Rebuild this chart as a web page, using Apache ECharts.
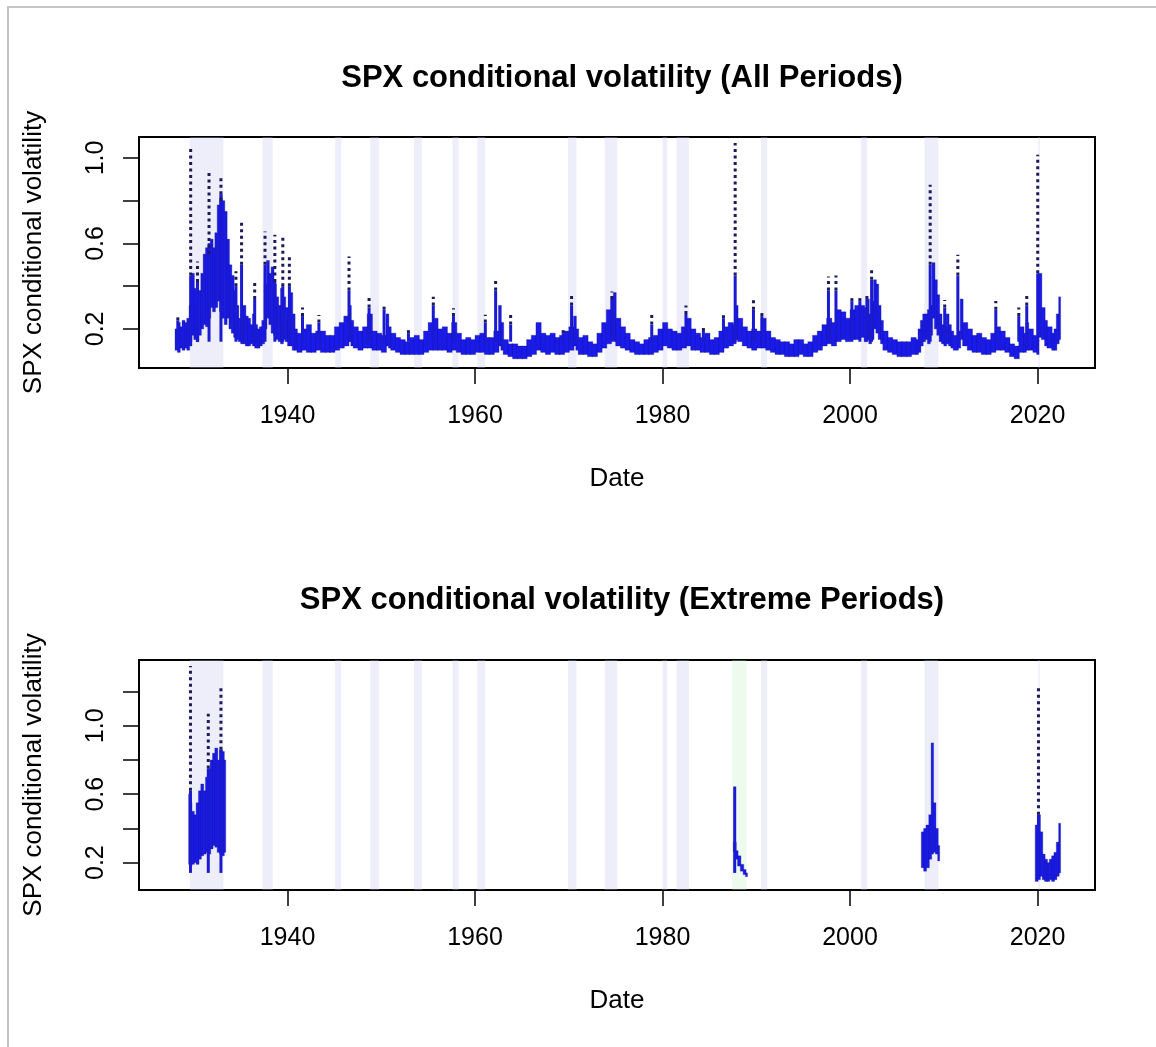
<!DOCTYPE html>
<html><head><meta charset="utf-8">
<script src="https://cdn.jsdelivr.net/npm/echarts@6/dist/echarts.min.js"></script>
<style>html,body{margin:0;padding:0;background:#fff}#c{width:1156px;height:1047px}</style>
</head><body><div id="c"></div>
<script>
const FONT = "'Liberation Sans', Arial, Helvetica, sans-serif";

// ---- axes / ticks ----
const xTickYears = [1940, 1960, 1980, 2000, 2020];
const yTicksAll = [0.2, 0.4, 0.6, 0.8, 1.0];
const yLabelsAll = [0.2, 0.6, 1.0];
const yTicksExt = [0.2, 0.4, 0.6, 0.8, 1.0, 1.2];
const yLabelsExt = [0.2, 0.6, 1.0];

// ---- recession bands (start, end) ----
const recessions = [
  [1929.58, 1933.17], [1937.33, 1938.42], [1945.08, 1945.75], [1948.83, 1949.75],
  [1953.5, 1954.33], [1957.58, 1958.25], [1960.25, 1961.08], [1969.92, 1970.83],
  [1973.83, 1975.17], [1980.0, 1980.5], [1981.5, 1982.83], [1990.5, 1991.17],
  [2001.17, 2001.83], [2007.92, 2009.42], [2020.08, 2020.25]
];
const crashBand = [[1987.4, 1988.95]];

// ---- All periods: [year, low, high] of the daily volatility mass ----
const allPeriodsVol = [
  [1928.0,0.10,0.20],[1928.25,0.09,0.23],[1928.5,0.11,0.21],[1928.75,0.10,0.24],
  [1929.0,0.11,0.23],[1929.25,0.10,0.25],[1929.5,0.12,0.31],[1929.75,0.17,0.46],
  [1930.0,0.15,0.39],[1930.25,0.14,0.31],[1930.5,0.17,0.38],[1930.75,0.20,0.46],
  [1931.0,0.22,0.55],[1931.25,0.21,0.58],[1931.5,0.25,0.60],[1931.75,0.30,0.62],
  [1932.0,0.28,0.58],[1932.25,0.30,0.65],[1932.5,0.33,0.78],[1932.75,0.28,0.83],
  [1933.0,0.25,0.80],[1933.25,0.22,0.75],[1933.5,0.25,0.62],[1933.75,0.20,0.50],
  [1934.0,0.18,0.45],[1934.25,0.16,0.38],[1934.5,0.15,0.31],[1934.75,0.14,0.25],
  [1935.0,0.13,0.24],[1935.25,0.13,0.31],[1935.5,0.12,0.26],[1935.75,0.12,0.25],
  [1936.0,0.13,0.22],[1936.25,0.12,0.27],[1936.5,0.11,0.22],[1936.75,0.11,0.20],
  [1937.0,0.12,0.21],[1937.25,0.13,0.24],[1937.5,0.20,0.41],[1937.75,0.25,0.52],
  [1938.0,0.22,0.46],[1938.25,0.18,0.49],[1938.5,0.17,0.41],[1938.75,0.15,0.35],
  [1939.0,0.14,0.31],[1939.25,0.13,0.39],[1939.5,0.15,0.35],[1939.75,0.14,0.30],
  [1940.0,0.12,0.26],[1940.25,0.12,0.37],[1940.5,0.10,0.27],[1940.75,0.10,0.20],
  [1941.0,0.09,0.18],[1941.5,0.10,0.20],[1942.0,0.09,0.22],[1942.5,0.09,0.18],
  [1943.0,0.10,0.19],[1943.5,0.09,0.19],[1944.0,0.09,0.17],[1944.5,0.09,0.17],
  [1945.0,0.10,0.21],[1945.5,0.11,0.23],[1946.0,0.12,0.26],[1946.5,0.14,0.31],
  [1946.75,0.12,0.24],[1947.0,0.11,0.21],[1947.5,0.10,0.19],[1948.0,0.11,0.21],
  [1948.5,0.11,0.27],[1949.0,0.10,0.19],[1949.5,0.10,0.18],[1950.0,0.09,0.17],
  [1950.5,0.12,0.27],[1950.75,0.11,0.21],[1951.0,0.10,0.18],[1951.5,0.09,0.16],
  [1952.0,0.08,0.15],[1952.5,0.08,0.14],[1953.0,0.08,0.16],[1953.5,0.08,0.17],
  [1954.0,0.08,0.15],[1954.5,0.09,0.19],[1955.0,0.10,0.23],[1955.5,0.10,0.25],
  [1956.0,0.10,0.20],[1956.5,0.10,0.21],[1957.0,0.09,0.18],[1957.5,0.10,0.23],
  [1958.0,0.09,0.18],[1958.5,0.08,0.15],[1959.0,0.08,0.16],[1959.5,0.08,0.15],
  [1960.0,0.09,0.17],[1960.5,0.09,0.18],[1961.0,0.08,0.16],[1961.5,0.08,0.16],
  [1962.0,0.09,0.19],[1962.5,0.12,0.31],[1962.75,0.10,0.23],[1963.0,0.08,0.15],
  [1963.5,0.07,0.13],[1964.0,0.06,0.13],[1964.5,0.06,0.12],[1965.0,0.06,0.12],
  [1965.5,0.07,0.15],[1966.0,0.08,0.17],[1966.5,0.10,0.23],[1967.0,0.09,0.18],
  [1967.5,0.08,0.17],[1968.0,0.09,0.18],[1968.5,0.08,0.16],[1969.0,0.08,0.17],
  [1969.5,0.09,0.19],[1970.0,0.10,0.21],[1970.5,0.12,0.26],[1970.75,0.10,0.20],
  [1971.0,0.08,0.16],[1971.5,0.08,0.17],[1972.0,0.07,0.14],[1972.5,0.07,0.13],
  [1973.0,0.09,0.18],[1973.5,0.11,0.23],[1974.0,0.13,0.29],[1974.5,0.15,0.35],
  [1974.75,0.14,0.37],[1975.0,0.12,0.25],[1975.5,0.11,0.21],[1976.0,0.10,0.18],
  [1976.5,0.09,0.15],[1977.0,0.08,0.14],[1977.5,0.08,0.13],[1978.0,0.08,0.15],
  [1978.5,0.08,0.16],[1979.0,0.09,0.17],[1979.5,0.10,0.20],[1980.0,0.12,0.23],
  [1980.5,0.11,0.20],[1981.0,0.10,0.19],[1981.5,0.10,0.18],[1982.0,0.11,0.21],
  [1982.5,0.12,0.25],[1983.0,0.10,0.20],[1983.5,0.10,0.18],[1984.0,0.09,0.16],
  [1984.5,0.09,0.18],[1985.0,0.08,0.15],[1985.5,0.08,0.16],[1986.0,0.09,0.19],
  [1986.5,0.11,0.21],[1987.0,0.12,0.23],[1987.5,0.13,0.22],[1987.8,0.15,0.31],
  [1988.0,0.14,0.25],[1988.5,0.12,0.21],[1989.0,0.11,0.19],[1989.5,0.10,0.20],
  [1990.0,0.11,0.19],[1990.5,0.11,0.25],[1991.0,0.10,0.19],[1991.5,0.09,0.16],
  [1992.0,0.08,0.15],[1992.5,0.08,0.14],[1993.0,0.07,0.14],[1993.5,0.07,0.13],
  [1994.0,0.07,0.15],[1994.5,0.08,0.15],[1995.0,0.07,0.13],[1995.5,0.07,0.14],
  [1996.0,0.09,0.17],[1996.5,0.10,0.19],[1997.0,0.12,0.22],[1997.5,0.13,0.25],
  [1998.0,0.12,0.23],[1998.5,0.14,0.29],[1999.0,0.15,0.28],[1999.5,0.14,0.25],
  [2000.0,0.15,0.29],[2000.5,0.15,0.31],[2001.0,0.16,0.31],[2001.5,0.14,0.30],
  [2001.75,0.15,0.34],[2002.0,0.13,0.27],[2002.25,0.15,0.33],[2002.5,0.20,0.43],
  [2002.75,0.18,0.41],[2003.0,0.15,0.31],[2003.25,0.13,0.24],[2003.5,0.10,0.19],
  [2004.0,0.09,0.16],[2004.5,0.08,0.15],[2005.0,0.07,0.14],[2005.5,0.07,0.14],
  [2006.0,0.07,0.14],[2006.5,0.08,0.16],[2007.0,0.08,0.15],[2007.25,0.09,0.20],
  [2007.5,0.12,0.24],[2007.75,0.14,0.27],[2008.0,0.15,0.27],[2008.25,0.13,0.29],
  [2008.5,0.17,0.31],[2008.75,0.25,0.51],[2009.0,0.20,0.43],[2009.25,0.17,0.36],
  [2009.5,0.14,0.27],[2009.75,0.13,0.22],[2010.0,0.12,0.21],[2010.25,0.13,0.27],
  [2010.5,0.12,0.22],[2010.75,0.11,0.19],[2011.0,0.10,0.17],[2011.5,0.11,0.19],
  [2011.75,0.15,0.34],[2012.0,0.12,0.23],[2012.5,0.10,0.20],[2013.0,0.09,0.17],
  [2013.5,0.09,0.18],[2014.0,0.08,0.16],[2014.5,0.08,0.15],[2015.0,0.09,0.18],
  [2015.5,0.10,0.21],[2016.0,0.10,0.19],[2016.5,0.09,0.16],[2017.0,0.07,0.13],
  [2017.5,0.06,0.12],[2018.0,0.09,0.21],[2018.5,0.09,0.18],[2018.75,0.10,0.23],
  [2019.0,0.10,0.20],[2019.5,0.09,0.17],[2019.9,0.08,0.15],[2020.1,0.16,0.46],
  [2020.4,0.15,0.30],[2020.75,0.12,0.24],[2021.0,0.11,0.21],[2021.5,0.10,0.18],
  [2021.75,0.10,0.20],[2022.0,0.13,0.27],[2022.25,0.15,0.35]
];

// ---- All periods spikes: [year, top of solid part, top of dotted part] ----
const allPeriodsSpikes = [
  [1928.3,0.24,0.27],[1929.67,0.45,1.046],[1930.4,0.42,0.515],[1931.63,0.55,0.937],
  [1932.9,0.80,0.92],[1934.5,0.40,0.47],[1935.1,0.50,0.70],[1936.5,0.34,0.43],
  [1937.6,0.50,0.656],[1938.65,0.42,0.64],[1939.5,0.40,0.63],[1940.2,0.40,0.55],
  [1941.6,0.26,0.30],[1943.35,0.23,0.265],[1946.56,0.38,0.539],[1948.7,0.30,0.35],
  [1950.3,0.29,0.32],[1952.9,0.18,0.195],[1955.55,0.31,0.35],[1957.7,0.26,0.297],
  [1961.1,0.23,0.266],[1962.2,0.38,0.437],[1963.8,0.22,0.266],[1969.4,0.18,0.195],
  [1970.3,0.31,0.36],[1974.6,0.34,0.375],[1978.85,0.22,0.266],[1982.5,0.27,0.31],
  [1984.36,0.19,0.22],[1986.5,0.25,0.28],[1987.75,0.45,1.07],[1989.7,0.29,0.335],
  [1990.6,0.26,0.29],[1997.7,0.38,0.445],[1998.5,0.38,0.45],[2000.2,0.33,0.36],
  [2001.05,0.33,0.36],[2001.8,0.34,0.36],[2002.3,0.43,0.476],[2008.55,0.50,0.874],
  [2010.1,0.30,0.335],[2011.5,0.45,0.547],[2015.55,0.29,0.33],[2018.0,0.26,0.30],
  [2018.85,0.31,0.36],[2020.02,0.46,1.015]
];

// ---- Extreme periods: [year, low, high] ----
const extremeVol = [
  [1929.45,0.19,0.60],[1929.6,0.18,0.55],[1929.75,0.19,0.50],[1930.0,0.20,0.48],
  [1930.25,0.19,0.55],[1930.5,0.22,0.62],[1930.75,0.24,0.66],[1931.0,0.25,0.62],
  [1931.25,0.26,0.70],[1931.5,0.25,0.75],[1931.75,0.28,0.80],[1932.0,0.30,0.84],
  [1932.25,0.29,0.87],[1932.5,0.26,0.80],[1932.75,0.25,0.86],[1933.0,0.24,0.85],
  [1933.2,0.26,0.80],
  [1987.55,0.265,0.32],[1987.8,0.22,0.27],[1988.0,0.18,0.24],[1988.3,0.15,0.19],
  [1988.6,0.13,0.16],[1988.85,0.118,0.14],
  [2007.6,0.17,0.38],[2007.85,0.15,0.40],[2008.1,0.17,0.42],[2008.4,0.22,0.48],
  [2008.65,0.25,0.90],[2008.85,0.26,0.55],[2009.1,0.25,0.40],[2009.35,0.21,0.30],
  [2019.75,0.09,0.42],[2020.0,0.10,0.48],[2020.25,0.12,0.38],[2020.5,0.10,0.25],
  [2020.75,0.09,0.22],[2021.0,0.09,0.20],[2021.25,0.10,0.22],[2021.5,0.09,0.24],
  [2021.75,0.10,0.26],[2022.0,0.12,0.32],[2022.25,0.14,0.43]
];
const extremeSpikes = [
  [1929.65,0.62,1.35],[1931.55,0.75,1.07],[1932.9,0.86,1.24],
  [1987.7,0.645,0.645],[2020.1,0.48,1.24]
];

// ---- rendering helpers ----
function massRenderer(data) {
  return function (params, api) {
    const i = params.dataIndex;
    const x0 = api.value(0), lo = api.value(1), hi = api.value(2);
    const next = i + 1 < data.length ? data[i + 1][0] : null;
    const x1 = (next !== null && next - x0 <= 0.6) ? next : x0 + 0.15;
    const a = api.coord([x0, hi]);
    const b = api.coord([x1, lo]);
    return {
      type: 'rect',
      shape: { x: a[0], y: a[1], width: b[0] - a[0] + 0.6, height: b[1] - a[1] },
      style: { fill: '#1a1aea', stroke: 'rgba(24,24,120,0.3)', lineWidth: 1 }
    };
  };
}
function spikeRenderer(params, api) {
  const x = api.value(0), s = api.value(1), t = api.value(2);
  const base = api.coord([x, Math.min(0.14, s)]);
  const ps = api.coord([x, s]);
  const pt = api.coord([x, t]);
  const children = [{
    type: 'line', shape: { x1: base[0], y1: base[1], x2: ps[0], y2: ps[1] },
    style: { stroke: '#1a1ad0', lineWidth: 3 }
  }];
  if (t > s) {
    children.push({
      type: 'line', shape: { x1: ps[0], y1: ps[1], x2: pt[0], y2: pt[1] },
      style: { stroke: '#1b1b5a', lineWidth: 3, lineDash: [3, 3.5] }
    });
  }
  return { type: 'group', children };
}

const chart = echarts.init(document.getElementById('c'), null, { renderer: 'canvas' });
const textBase = { color: '#000', fontFamily: FONT };

function xAxisCfg(gi) {
  return {
    gridIndex: gi, type: 'value', min: 1924.16, max: 2026.13,
    axisLine: { show: false }, splitLine: { show: false },
    axisTick: { show: true, length: 16, customValues: xTickYears, lineStyle: { color: '#000', width: 1.5 } },
    axisLabel: { ...textBase, fontSize: 25, margin: 36, customValues: xTickYears, formatter: v => String(Math.round(v)) },
    name: 'Date', nameLocation: 'middle', nameGap: 98,
    nameTextStyle: { ...textBase, fontSize: 26 }
  };
}
function yAxisCfg(gi, min, max, ticks, labels) {
  return {
    gridIndex: gi, type: 'value', min, max,
    axisLine: { show: false }, splitLine: { show: false },
    axisTick: { show: true, length: 16, customValues: ticks, lineStyle: { color: '#000', width: 1.5 } },
    axisLabel: { ...textBase, fontSize: 25, rotate: 90, margin: 30, customValues: labels, formatter: v => v.toFixed(1) },
    name: 'SPX conditional volatility', nameLocation: 'middle', nameGap: 92,
    nameTextStyle: { ...textBase, fontSize: 26 }
  };
}
function bands(list, color) {
  return {
    silent: true, itemStyle: { color },
    data: list.map(r => [{ xAxis: r[0] }, { xAxis: r[1] }])
  };
}

chart.setOption({
  animation: false,
  backgroundColor: '#fff',
  title: [
    { text: 'SPX conditional volatility (All Periods)', left: 617, top: 58, textAlign: 'center',
      textStyle: { ...textBase, fontSize: 31, fontWeight: 'bold' } },
    { text: 'SPX conditional volatility (Extreme Periods)', left: 617, top: 580, textAlign: 'center',
      textStyle: { ...textBase, fontSize: 31, fontWeight: 'bold' } }
  ],
  graphic: [{
    type: 'rect', silent: true, z: 100,
    shape: { x: 8, y: 7, width: 1300, height: 1200 },
    style: { fill: 'none', stroke: '#c4c4c4', lineWidth: 2 }
  }],
  grid: [
    { left: 139, top: 137, width: 956, height: 231, show: true, borderColor: '#000', borderWidth: 2, backgroundColor: 'transparent' },
    { left: 139, top: 660, width: 956, height: 230, show: true, borderColor: '#000', borderWidth: 2, backgroundColor: 'transparent' }
  ],
  xAxis: [xAxisCfg(0), xAxisCfg(1)],
  yAxis: [
    yAxisCfg(0, 0.017, 1.098, yTicksAll, yLabelsAll),
    yAxisCfg(1, 0.04, 1.385, yTicksExt, yLabelsExt)
  ],
  series: [
    { type: 'custom', xAxisIndex: 0, yAxisIndex: 0, data: allPeriodsVol, clip: true,
      renderItem: massRenderer(allPeriodsVol), encode: { x: 0, y: [1, 2] },
      markArea: bands(recessions, 'rgba(200,200,240,0.3)') },
    { type: 'custom', xAxisIndex: 0, yAxisIndex: 0, data: allPeriodsSpikes, clip: true,
      renderItem: spikeRenderer, encode: { x: 0, y: [1, 2] } },
    { type: 'custom', xAxisIndex: 1, yAxisIndex: 1, data: extremeVol, clip: true,
      renderItem: massRenderer(extremeVol), encode: { x: 0, y: [1, 2] },
      markArea: bands(recessions, 'rgba(200,200,240,0.3)') },
    { type: 'custom', xAxisIndex: 1, yAxisIndex: 1, data: extremeSpikes, clip: true,
      renderItem: spikeRenderer, encode: { x: 0, y: [1, 2] },
      markArea: bands(crashBand, 'rgba(200,240,200,0.3)') }
  ]
});
</script>
</body></html>
